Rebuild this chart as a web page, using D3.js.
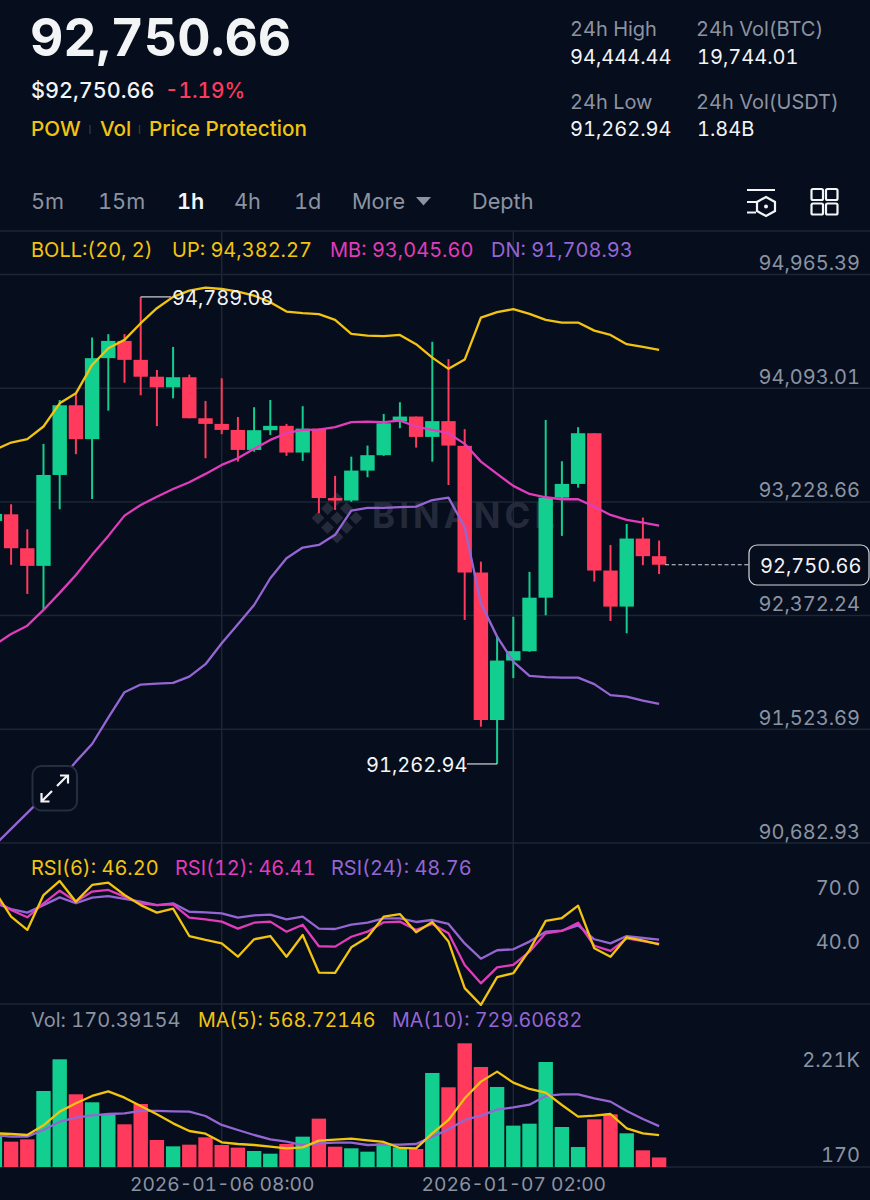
<!DOCTYPE html>
<html><head><meta charset="utf-8">
<script src="https://cdn.jsdelivr.net/npm/d3@7/dist/d3.min.js"></script>
<style>html,body{margin:0;padding:0;background:#060d1c}svg{display:block}text{font-family:Inter,"Noto Sans",sans-serif;font-variant-numeric:tabular-nums;font-feature-settings:"tnum" 1}</style>
</head><body><svg id="c" width="870" height="1200"></svg>
<script>
const open_ =[93081,93131,92875,92742,93429,93959,93701,94319,94451,94306,94177,94096,94173,93860,93817,93771,93619,93769,93802,93599,93781,93254,93235,93462,93579,93835,93873,93718,93838,93650,92692,91589,92032,92102,92503,93257,93361,93746,92707,92436,92948,92815];
const high_ =[93156,93207,93018,93665,93999,94045,94477,94503,94503,94789.08,94229,94405,94193,93992,94165,93870,93944,93999,93817,93952,93781,93422,93568,93652,93893,93982,93873,94444.44,94311,93777,92774,92216,92360,92697,93847,93533,93792,93746,92900,93058,93106,92933];
const low_  =[93051,92750,92531,92411,93169,93587,93247,93918,94131,94035,93800,94012,93860,93556,93739,93530,93606,93733,93574,93536,93139,93164,93226,93412,93574,93784,93637,93530,93353,92336,91539,91262.94,91901,92097,92371,92968,93333,92624,92328,92236,92747,92680];
const close_=[93134,92875,92742,93429,93959,93701,94319,94451,94306,94177,94096,94173,93860,93817,93771,93619,93769,93802,93599,93781,93254,93235,93462,93579,93822,93873,93718,93838,93652,92692,91589,92032,92102,92503,93257,93361,93746,92707,92436,92948,92815,92750.66];
const bollUp=[93619,93675,93701,93797,93974,94050,94267,94395,94459,94587,94702,94789,94837,94860,94850,94830,94799,94748,94676,94664,94656,94613,94505,94492,94487,94497,94426,94323,94237,94308,94630,94672,94695,94659,94613,94592,94592,94530,94497,94426,94405,94382.27];
const bollMb=[92149,92231,92293,92411,92539,92674,92825,92968,93121,93202,93264,93323,93374,93437,93505,93556,93627,93695,93746,93771,93774,93792,93830,93835,93830,93842,93797,93771,93746,93665,93530,93437,93346,93285,93260,93245,93245,93189,93126,93089,93068,93045.60];
const bollDn=[90664,90783,90901,91019,91133,91280,91411,91607,91796,91853,91860,91866,91912,92005,92162,92304,92448,92649,92800,92880,92900,92976,93159,93179,93179,93186,93189,93239,93257,93034,92461,92211,92024,91918,91908,91905,91905,91856,91774,91763,91733,91708.93];
const rsi6 =[75.5,61.6,54.2,73.6,81.4,69.9,79.2,80.5,73.6,68.0,63.8,66.0,50.8,48.6,46.7,39.3,49.0,50.8,39.3,51.4,30.5,30.3,44.5,50.1,61.6,63.0,52.9,58.6,47.7,21.8,12.5,27.9,30.1,43.0,59.2,60.8,67.7,44.0,39.3,50.1,48.2,46.20];
const rsi12=[70.8,65.3,61.2,69.0,76.0,69.9,75.5,76.4,72.7,69.0,68.0,68.4,61.0,60.1,58.8,54.9,58.2,58.8,53.2,57.1,45.1,44.9,50.4,53.2,58.4,58.8,54.2,57.5,52.3,34.7,24.5,33.4,34.7,42.1,52.3,53.6,58.2,45.4,42.5,49.5,47.9,46.41];
const rsi24=[69.0,65.8,63.8,68.0,72.3,69.0,72.1,73.0,71.4,69.9,68.0,69.0,64.3,64.0,63.4,61.0,62.3,62.7,60.1,61.6,54.9,54.7,57.1,58.2,60.6,60.6,58.6,59.7,57.5,46.7,38.2,42.9,43.4,47.7,53.2,53.8,56.7,49.0,46.7,50.8,49.7,48.76];
const volume=[554,453,494,1358,1924,1299,1156,947,763,1126,483,369,399,530,393,346,286,238,411,542,864,363,334,274,423,351,322,1680,1424,2210,1787,1430,739,774,1876,715,357,852,941,602,298,170.39];
const volMa5=[602,590,572,745,989,1138,1269,1352,1239,1090,941,780,643,596,441,411,393,363,334,351,471,488,506,477,447,340,334,602,840,1227,1525,1704,1507,1394,1328,1108,900,917,947,691,602,568.72];
const volMa10=[572,542,542,661,810,882,923,947,959,1001,1001,995,989,911,751,661,572,494,453,393,423,435,435,393,399,399,411,542,673,840,917,1025,1066,1114,1269,1299,1299,1227,1168,1001,858,729.61];
const priceTicks=[94965.39,94093.01,93228.66,92372.24,91523.69,90682.93];
const rsiTicks=[70,40];
const timeTickIdx=[14,32];
const timeTickLabels=["2026-01-06 08:00","2026-01-07 02:00"];
const lastPrice=92750.66, hiIdx=9, loIdx=31;

const BG="#060d1c",GREEN="#12cf8f",RED="#ff3a5c",YEL="#f2c410",PINK="#e03cbb",PUR="#9566d3",GRID="#1d2635",GREY="#8b93a2",WHITE="#f3f4f6";
const svg=d3.select("#c");
svg.append("rect").attr("width",870).attr("height",1200).attr("fill",BG);

const x=d3.scaleLinear().domain([14,32]).range([221.7,513.3]);
const y=d3.scaleLog().domain([90682.93,94965.39]).range([842.5,274]);
const yR=d3.scaleLinear().domain([13,102.8]).range([1004,842.5]);
const yV=d3.scaleLinear().domain([0,2210]).range([1167,1043.3]);
const idx=d3.range(open_.length);

function T(s,px,py,size,fill,o={}){const t=svg.append("text").attr("x",px).attr("y",py).attr("font-size",size).attr("fill",fill).attr("font-weight",o.w||400).text(s);if(o.a)t.attr("text-anchor",o.a);return t;}

/* vertical and frame grid */
const vg=svg.append("g");
const xAxis=d3.axisBottom(x).tickValues(timeTickIdx).tickSize(0).tickFormat((d,i)=>timeTickLabels[i]);
svg.append("g").attr("transform","translate(0,1191)").call(xAxis).call(g=>{
  g.select(".domain").remove();
  g.selectAll("text").attr("y",0).attr("dy",0).attr("font-size",19.2).attr("fill",GREY).attr("font-family","Inter").attr("text-anchor","middle");
});
timeTickIdx.forEach(i=>vg.append("line").attr("x1",x(i)).attr("x2",x(i)).attr("y1",231).attr("y2",1167).attr("stroke",GRID).attr("stroke-width",1.5));
[231,1004,1167].forEach(v=>vg.append("line").attr("x1",0).attr("x2",870).attr("y1",v).attr("y2",v).attr("stroke",GRID).attr("stroke-width",1.5));

/* price axis */
svg.append("g").call(d3.axisRight(y).tickValues(priceTicks).tickSize(870).tickFormat(d3.format(",.2f"))).call(g=>{
  g.select(".domain").remove();
  g.selectAll("line").attr("stroke",GRID).attr("stroke-width",1.5);
  g.selectAll("text").attr("x",860).attr("y",0).attr("dy",-4.5).attr("text-anchor","end").attr("font-size",20).attr("fill",GREY).attr("font-family","Inter");
});

/* watermark */
const wm=svg.append("g").attr("fill","#242a3a");
[[0,0],[-1,-1],[1,-1],[-1,1],[1,1],[-2,0],[2,0],[0,-2],[0,2]].forEach(([a,b])=>{
  wm.append("rect").attr("x",-4.6).attr("y",-4.6).attr("width",9.2).attr("height",9.2).attr("transform",`translate(${337+a*9.5},${518+b*9.5}) rotate(45)`);
});
wm.append("text").attr("x",372).attr("y",528).attr("font-size",35).attr("font-weight",700).attr("letter-spacing",4).text("BINANCE");

/* candles */
const cg=svg.append("g");
const col=i=>close_[i]>=open_[i]?GREEN:RED;
cg.selectAll("line.w").data(idx).join("line").attr("x1",i=>x(i)).attr("x2",i=>x(i)).attr("y1",i=>y(high_[i])).attr("y2",i=>y(low_[i])).attr("stroke",col).attr("stroke-width",2);
cg.selectAll("rect.b").data(idx).join("rect").attr("x",i=>x(i)-7.2).attr("width",14.4)
  .attr("y",i=>y(Math.max(open_[i],close_[i]))).attr("height",i=>Math.max(1.5,Math.abs(y(open_[i])-y(close_[i])))).attr("fill",col);

function L(arr,sc,c,w=2.3){svg.append("path").attr("d",d3.line().x((d,i)=>x(i)).y(d=>sc(d))(arr)).attr("fill","none").attr("stroke",c).attr("stroke-width",w).attr("stroke-linejoin","round");}
L(bollUp,y,YEL);L(bollMb,y,PINK);L(bollDn,y,PUR);

/* hi/lo callouts */
svg.append("line").attr("x1",x(hiIdx)).attr("x2",171).attr("y1",y(high_[hiIdx])).attr("y2",y(high_[hiIdx])).attr("stroke","#d5d7dc").attr("stroke-width",1.2);
T("94,789.08",172,305,20,WHITE);
svg.append("line").attr("x1",467).attr("x2",x(loIdx)).attr("y1",y(low_[loIdx])).attr("y2",y(low_[loIdx])).attr("stroke","#d5d7dc").attr("stroke-width",1.2);
T("91,262.94",366,772,20,WHITE);

/* last price */
svg.append("line").attr("x1",x(41)+6).attr("x2",749).attr("y1",y(lastPrice)).attr("y2",y(lastPrice)).attr("stroke","#d5d7dc").attr("stroke-width",1.2).attr("stroke-dasharray","4,2.6");
svg.append("rect").attr("x",749).attr("y",545).attr("width",120).attr("height",40).attr("rx",8).attr("fill",BG).attr("stroke","#d5d7dc").attr("stroke-width",1.2);
T(d3.format(",.2f")(lastPrice),760,573,20,WHITE);

/* expand button */
const eb=svg.append("g");
eb.append("rect").attr("x",32.5).attr("y",766).attr("width",44.5).attr("height",44.5).attr("rx",9).attr("fill",BG).attr("stroke","#252e3e").attr("stroke-width",2);
eb.append("path").attr("d","M57 786L67 776M60 775.5H68V783.5M52 791L42 801M41.5 793V801.5H49.5").attr("fill","none").attr("stroke",WHITE).attr("stroke-width",2.2);

/* RSI */
L(rsi24,yR,PUR);L(rsi12,yR,PINK);L(rsi6,yR,YEL);
svg.append("g").call(d3.axisLeft(yR).tickValues(rsiTicks).tickSize(0).tickFormat(d3.format(".1f"))).call(g=>{
  g.select(".domain").remove();
  g.selectAll("text").attr("x",860).attr("y",0).attr("dy",-6.5).attr("text-anchor","end").attr("font-size",20).attr("fill",GREY).attr("font-family","Inter");
});
T("RSI(6): 46.20",31,875,20,YEL);T("RSI(12): 46.41",175,875,20,PINK);T("RSI(24): 48.76",331,875,20,PUR);

/* Volume */
svg.selectAll("rect.v").data(idx).join("rect").attr("class","v").attr("x",i=>x(i)-7.2).attr("width",14.4).attr("y",i=>yV(volume[i])).attr("height",i=>yV(0)-yV(volume[i])).attr("fill",col);
L(volMa10,yV,PUR);L(volMa5,yV,YEL);
T("Vol: 170.39154",31,1027,20,GREY);T("MA(5): 568.72146",198,1027,19.7,YEL);T("MA(10): 729.60682",392,1027,19.7,PUR);
T("2.21K",860,1066.5,20,GREY,{a:"end"});T("170",860,1161.5,20,GREY,{a:"end"});

/* header */
T("92,750.66",30,56,51.6,WHITE,{w:700});
T("$92,750.66",31,98,21.6,WHITE,{w:500});T("-1.19%",165,98,20.8,RED,{w:500});
T("POW",31,136,20.7,YEL,{w:500});T("Vol",100,136,20.7,YEL,{w:500});T("Price Protection",149,136,20.7,YEL,{w:500});
[90,139.5].forEach(v=>svg.append("line").attr("x1",v).attr("x2",v).attr("y1",125).attr("y2",134).attr("stroke","#2c3443").attr("stroke-width",1.5));
[["24h High",570,36,GREY],["94,444.44",570,63.5,WHITE],["24h Vol(BTC)",696,36,GREY],["19,744.01",697,63.5,WHITE],["24h Low",570,108.5,GREY],["91,262.94",570,136,WHITE],["24h Vol(USDT)",696,108.5,GREY],["1.84B",697,136,WHITE]].forEach(d=>T(d[0],d[1],d[2],20,d[3]));
[["5m",31],["15m",98],["4h",234],["1d",294],["More",352],["Depth",472]].forEach(d=>T(d[0],d[1],209,21.7,GREY));
T("1h",177,209,21.7,WHITE,{w:600});
svg.append("path").attr("d","M416 197H431L423.5 205.5Z").attr("fill",GREY);
T("BOLL:(20, 2)",31,257,20,YEL);T("UP: 94,382.27",172,257,20,YEL);T("MB: 93,045.60",330,257,20,PINK);T("DN: 91,708.93",491,257,20,PUR);

/* icons */
const ic=svg.append("g").attr("fill","none").attr("stroke",WHITE).attr("stroke-width",2.2);
ic.append("path").attr("d","M747 190H775M747 202H756M747 212.5H756M766 197L775 202V211L766 216L757 211V202Z");
ic.append("circle").attr("cx",766).attr("cy",206.5).attr("r",2).attr("fill",WHITE).attr("stroke","none");
[[811.5,189],[826,189],[811.5,203.5],[826,203.5]].forEach(p=>ic.append("rect").attr("x",p[0]).attr("y",p[1]).attr("width",11.5).attr("height",11).attr("rx",1.5));
</script></body></html>
